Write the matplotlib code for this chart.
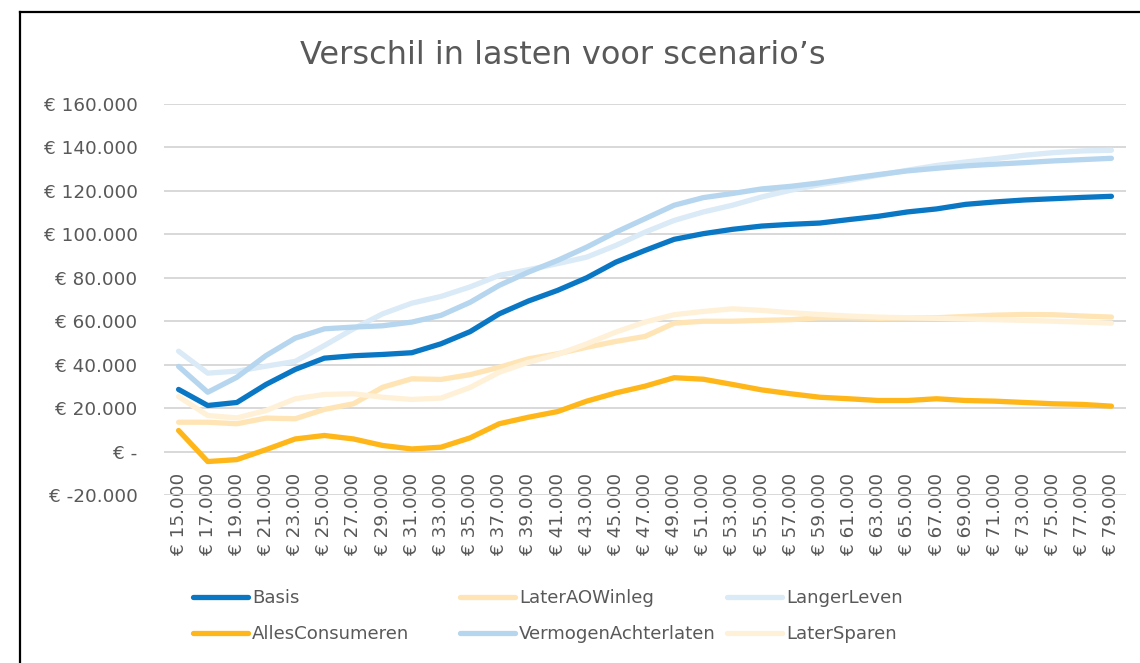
import matplotlib
matplotlib.use("Agg")
import matplotlib.pyplot as plt
from matplotlib.lines import Line2D

categories = ["€ 15.000", "€ 17.000", "€ 19.000", "€ 21.000", "€ 23.000", "€ 25.000",
              "€ 27.000", "€ 29.000", "€ 31.000", "€ 33.000", "€ 35.000", "€ 37.000",
              "€ 39.000", "€ 41.000", "€ 43.000", "€ 45.000", "€ 47.000", "€ 49.000",
              "€ 51.000", "€ 53.000", "€ 55.000", "€ 57.000", "€ 59.000", "€ 61.000",
              "€ 63.000", "€ 65.000", "€ 67.000", "€ 69.000", "€ 71.000", "€ 73.000",
              "€ 75.000", "€ 77.000", "€ 79.000"]

# values in thousands of euros
basis = [28.6, 21.2, 22.6, 30.9, 37.8, 43.0, 44.1, 44.7, 45.5, 49.6, 55.2, 63.4, 69.3,
         74.2, 80.0, 87.2, 92.6, 97.7, 100.3, 102.3, 103.8, 104.6, 105.2, 106.8, 108.3,
         110.3, 111.7, 113.8, 114.9, 115.8, 116.4, 117.0, 117.5]
later_aow = [13.5, 13.5, 12.8, 15.4, 15.1, 19.4, 22.0, 29.6, 33.5, 33.2, 35.4, 38.8, 42.7,
             45.0, 48.0, 50.7, 53.0, 59.1, 60.0, 60.0, 60.4, 60.7, 61.6, 61.6, 61.3,
             61.5, 61.6, 62.2, 62.8, 63.1, 63.0, 62.4, 61.9]
langer_leven = [46.2, 36.1, 37.0, 39.3, 41.5, 48.8, 56.5, 63.4, 68.3, 71.4, 75.8, 81.1, 83.7,
                86.5, 89.5, 94.9, 101.0, 106.4, 110.3, 113.4, 117.2, 120.3, 122.9, 124.9,
                127.2, 129.5, 131.7, 133.3, 134.8, 136.4, 137.6, 138.4, 138.7]
alles_consumeren = [9.7, -4.6, -3.7, 0.9, 5.8, 7.4, 5.8, 2.8, 1.2, 2.0, 6.3, 12.8, 15.8,
                    18.4, 23.2, 27.0, 30.1, 34.0, 33.3, 30.9, 28.4, 26.6, 25.0, 24.3, 23.5,
                    23.5, 24.3, 23.5, 23.2, 22.6, 22.0, 21.7, 20.9]
vermogen = [39.2, 27.3, 34.2, 44.2, 52.2, 56.5, 57.3, 57.9, 59.6, 62.7, 68.7, 76.5, 82.6,
            88.0, 94.1, 101.0, 107.2, 113.4, 116.9, 118.8, 120.9, 122.1, 123.7, 125.7,
            127.5, 129.2, 130.4, 131.5, 132.3, 133.0, 133.8, 134.4, 135.0]
later_sparen = [25.3, 16.6, 15.5, 18.9, 24.3, 26.3, 26.6, 25.0, 24.0, 24.6, 29.5, 36.5, 41.1,
                44.7, 49.6, 55.0, 59.6, 63.0, 64.5, 65.7, 65.0, 63.9, 63.1, 62.4, 61.9,
                61.6, 61.3, 61.0, 60.7, 60.4, 60.0, 59.6, 59.1]

series_names = ["Basis", "LaterAOWinleg", "LangerLeven",
                "AllesConsumeren", "VermogenAchterlaten", "LaterSparen"]
series_values = [basis, later_aow, langer_leven, alles_consumeren, vermogen, later_sparen]
series_colors = ["#0A77C5", "#FFE5B5", "#DAEAF6", "#FFB619", "#B5D6EE", "#FFF1D8"]

ytick_values = [-20, 0, 20, 40, 60, 80, 100, 120, 140, 160]
ytick_labels = ["€ -20.000", "€ -", "€ 20.000", "€ 40.000", "€ 60.000", "€ 80.000",
                "€ 100.000", "€ 120.000", "€ 140.000", "€ 160.000"]

grey = "#595959"
W, H = 1140, 663
fig = plt.figure(figsize=(W / 100, H / 100), dpi=100)
ax = fig.add_axes([164 / W, 1 - 495 / H, (1126 - 164) / W, (495 - 104) / H])

x = list(range(len(categories)))
lines = []
for name, vals, col in zip(series_names, series_values, series_colors):
    ln, = ax.plot(x, vals, color=col, lw=3.8, label=name,
                  solid_capstyle="round", solid_joinstyle="round")
    lines.append(ln)
# draw the strong lines on top
lines[0].set_zorder(4)
lines[3].set_zorder(3.5)

ax.set_xlim(-0.5, len(categories) - 0.5)
ax.set_ylim(-20, 160)
ax.set_yticks(ytick_values)
ax.set_yticklabels(ytick_labels)
ax.set_xticks(x)
ax.set_xticklabels(categories, rotation=90)
ax.grid(axis="y", color="#D6D6D6", lw=1.3)
ax.set_axisbelow(True)
for s in ax.spines.values():
    s.set_visible(False)
ax.tick_params(axis="y", length=0, pad=19, labelsize=13.2, labelcolor=grey)
ax.tick_params(axis="x", length=0, pad=-15.8, labelsize=13.2, labelcolor=grey)

# title
fig.text(563 / W, 1 - 56 / H, "Verschil in lasten voor scenario’s",
         ha="center", va="center", fontsize=23, color=grey)

# legend: three columns, each its own legend
col_x = [193, 460, 727]
for i, cx in enumerate(col_x):
    hs = [lines[i], lines[i + 3]]
    leg = fig.legend(hs, [h.get_label() for h in hs], loc="center left",
                     bbox_to_anchor=(cx / W, 1 - 616 / H), frameon=False,
                     fontsize=13.1, handlelength=3.0, handletextpad=0.25,
                     borderpad=0, borderaxespad=0, labelspacing=1.0)
    for t in leg.get_texts():
        t.set_color(grey)

# chart border (only left and top edges fall inside the image)
fig.add_artist(Line2D([19.5 / W, 19.5 / W], [0, 1 - 12 / H], color="black", lw=1.6,
                      transform=fig.transFigure))
fig.add_artist(Line2D([19.5 / W, 1], [1 - 12 / H, 1 - 12 / H], color="black", lw=1.6,
                      transform=fig.transFigure))

fig.savefig("out.png", dpi=100)
